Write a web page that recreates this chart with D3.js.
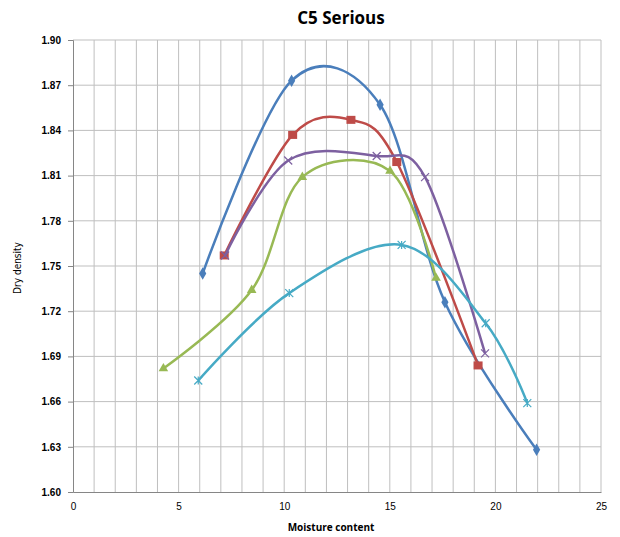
<!DOCTYPE html>
<html><head><meta charset="utf-8">
<script src="https://cdn.jsdelivr.net/npm/d3@7"></script>
<style>body{margin:0;background:#fff;}svg{display:block;font-family:"Open Sans","DejaVu Sans",sans-serif;}</style>
</head><body>
<svg id="c" width="620" height="537"></svg>
<script>
const seriesNames = ["S1","S2","S3","S4","S5"];
const colors = ["#4A7EBB","#BE4B48","#98B954","#7D60A0","#46AAC5"];
const markers = ["diamond","square","triangle","x","star"];
const blueX = [6.14,10.35,14.54,17.61,21.95];
const blueY = [1.745,1.873,1.857,1.726,1.628];
const redX = [7.16,10.40,13.16,15.33,19.18];
const redY = [1.757,1.837,1.847,1.819,1.684];
const greenX = [4.28,8.46,10.86,15.01,17.19];
const greenY = [1.682,1.734,1.809,1.813,1.742];
const purpleX = [7.2,10.19,14.38,16.67,19.51];
const purpleY = [1.757,1.820,1.823,1.809,1.692];
const cyanX = [5.93,10.24,15.56,19.54,21.51];
const cyanY = [1.674,1.732,1.764,1.712,1.659];
const xTicks = [0,5,10,15,20,25];
const yTicks = [1.60,1.63,1.66,1.69,1.72,1.75,1.78,1.81,1.84,1.87,1.90];

const svg = d3.select("#c");
const L=73,R=601,T=40,B=492;
const x = d3.scaleLinear().domain([0,25]).range([L,R]);
const y = d3.scaleLinear().domain([1.60,1.90]).range([B,T]);

// gridlines
const g = svg.append("g");
g.selectAll(".vg").data(d3.range(1,26)).enter().append("line")
 .attr("x1",d=>x(d)).attr("x2",d=>x(d)).attr("y1",T).attr("y2",B)
 .attr("stroke","#BFBFBF").attr("stroke-width",1);
g.selectAll(".hg").data(yTicks.slice(1)).enter().append("line")
 .attr("x1",L).attr("x2",R).attr("y1",d=>y(d)).attr("y2",d=>y(d))
 .attr("stroke","#BFBFBF").attr("stroke-width",1);

// axes
const ya = svg.append("g").attr("transform",`translate(${L},0)`)
 .call(d3.axisLeft(y).tickValues(yTicks).tickFormat(d3.format(".2f")).tickSize(5).tickPadding(7));
ya.select(".domain").attr("stroke","#868686");
ya.selectAll(".tick line").attr("stroke","#868686");
ya.selectAll("text").attr("font-size",10).attr("font-weight","bold").attr("fill","#000");
const xa = svg.append("g").attr("transform",`translate(0,${B})`)
 .call(d3.axisBottom(x).tickValues(xTicks).tickSize(0).tickPadding(11));
xa.select(".domain").attr("stroke","#868686");
xa.selectAll("text").attr("font-size",10).attr("fill","#000");

// series
const data = [
 [blueX,blueY],[redX,redY],[greenX,greenY],[purpleX,purpleY],[cyanX,cyanY]
];
const line = d3.line().x(d=>x(d[0])).y(d=>y(d[1])).curve(d3.curveCardinal.tension(0));
data.forEach((s,i)=>{
 const pts = s[0].map((v,j)=>[v,s[1][j]]);
 svg.append("path").datum(pts).attr("d",line).attr("fill","none")
  .attr("stroke",colors[i]).attr("stroke-width",2.5);
 const mg = svg.append("g");
 pts.forEach(p=>{
  const cx=x(p[0]), cy=y(p[1]);
  const m = markers[i];
  if(m==="diamond") mg.append("path").attr("d",d3.symbol(d3.symbolDiamond,45)()).attr("transform",`translate(${cx},${cy})`).attr("fill",colors[i]);
  else if(m==="square") mg.append("rect").attr("x",cx-4.5).attr("y",cy-4).attr("width",9).attr("height",8).attr("fill",colors[i]);
  else if(m==="triangle") mg.append("path").attr("d",d3.symbol(d3.symbolTriangle,40)()).attr("transform",`translate(${cx},${cy})`).attr("fill",colors[i]);
  else if(m==="x") mg.append("path").attr("d",`M${cx-4},${cy-4}L${cx+4},${cy+4}M${cx-4},${cy+4}L${cx+4},${cy-4}`).attr("stroke",colors[i]).attr("stroke-width",1.2);
  else mg.append("path").attr("d",`M${cx-4},${cy-4}L${cx+4},${cy+4}M${cx-4},${cy+4}L${cx+4},${cy-4}M${cx},${cy-4}L${cx},${cy+4}`).attr("stroke",colors[i]).attr("stroke-width",1.2);
 });
});

// texts
svg.append("text").attr("x",341).attr("y",24).attr("text-anchor","middle")
 .attr("font-size",17).attr("font-weight","bold").text("C5 Serious");
svg.append("text").attr("x",331).attr("y",531).attr("text-anchor","middle")
 .attr("font-size",10).attr("font-weight","bold").text("Moisture content");
svg.append("text").attr("transform","translate(21,268) rotate(-90)").attr("text-anchor","middle")
 .attr("font-size",10).attr("font-family","'Liberation Sans Narrow','DejaVu Sans Condensed',sans-serif").text("Dry density");
</script>
</body></html>
